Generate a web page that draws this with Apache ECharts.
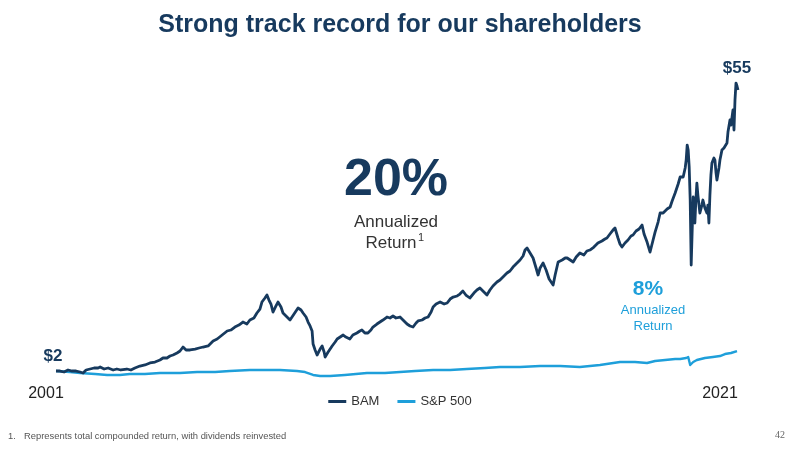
<!DOCTYPE html>
<html><head><meta charset="utf-8">
<script src="https://cdn.jsdelivr.net/npm/echarts@6/dist/echarts.min.js"></script>
<style>html,body{margin:0;padding:0;background:#fff}#c{width:800px;height:451px}</style>
</head><body><div id="c"></div>
<script>
// BAM: year / value in $
var bamYears = [2001.00,2001.12,2001.24,2001.36,2001.48,2001.60,2001.72,2001.81,2001.90,2002.02,2002.14,2002.26,2002.32,2002.44,2002.56,2002.71,2002.82,2002.94,2003.12,2003.24,2003.36,2003.51,2003.66,2003.81,2003.96,2004.11,2004.20,2004.32,2004.41,2004.50,2004.62,2004.71,2004.80,2004.89,2005.01,2005.16,2005.28,2005.40,2005.55,2005.70,2005.82,2005.97,2006.12,2006.23,2006.35,2006.47,2006.59,2006.71,2006.80,2006.92,2007.01,2007.10,2007.16,2007.25,2007.31,2007.37,2007.43,2007.49,2007.58,2007.64,2007.73,2007.79,2007.88,2008.00,2008.12,2008.24,2008.33,2008.39,2008.48,2008.54,2008.60,2008.66,2008.69,2008.75,2008.81,2008.90,2008.96,2009.02,2009.05,2009.14,2009.26,2009.35,2009.41,2009.50,2009.59,2009.67,2009.79,2009.88,2010.00,2010.09,2010.15,2010.24,2010.33,2010.42,2010.48,2010.60,2010.69,2010.78,2010.90,2010.99,2011.08,2011.17,2011.29,2011.38,2011.50,2011.59,2011.68,2011.77,2011.83,2011.95,2012.04,2012.13,2012.22,2012.28,2012.37,2012.49,2012.61,2012.70,2012.79,2012.88,2013.00,2013.08,2013.17,2013.26,2013.38,2013.50,2013.59,2013.68,2013.80,2013.89,2013.98,2014.07,2014.19,2014.28,2014.40,2014.49,2014.58,2014.67,2014.76,2014.88,2014.97,2015.03,2015.09,2015.18,2015.27,2015.36,2015.42,2015.48,2015.57,2015.66,2015.75,2015.87,2015.93,2016.02,2016.14,2016.23,2016.29,2016.38,2016.47,2016.56,2016.67,2016.79,2016.88,2016.97,2017.09,2017.21,2017.33,2017.42,2017.48,2017.57,2017.66,2017.72,2017.81,2017.87,2017.93,2018.02,2018.11,2018.20,2018.26,2018.35,2018.44,2018.53,2018.59,2018.68,2018.77,2018.86,2018.92,2019.01,2019.07,2019.16,2019.28,2019.37,2019.43,2019.52,2019.61,2019.67,2019.76,2019.82,2019.85,2019.88,2019.91,2019.94,2019.97,2020.00,2020.03,2020.06,2020.09,2020.11,2020.14,2020.17,2020.20,2020.26,2020.32,2020.35,2020.41,2020.47,2020.50,2020.53,2020.56,2020.59,2020.62,2020.68,2020.71,2020.74,2020.77,2020.83,2020.86,2020.92,2020.98,2021.07,2021.10,2021.16,2021.19,2021.25,2021.28,2021.31,2021.34,2021.37,2021.40];
var bamValues = [2.02,2.02,1.84,2.21,2.02,2.02,1.84,1.66,2.21,2.39,2.58,2.58,2.76,2.39,2.58,2.21,2.39,2.21,2.39,2.21,2.58,2.94,3.13,3.50,3.68,4.05,4.42,4.42,4.78,4.97,5.34,5.70,6.44,5.89,5.89,6.07,6.26,6.44,6.63,7.55,7.91,8.65,9.39,9.57,10.12,10.49,11.04,10.67,11.41,11.78,12.70,13.43,14.72,15.46,16.01,15.09,14.35,12.88,13.99,14.72,13.80,12.70,12.15,11.41,12.51,13.62,13.25,12.70,11.96,11.04,10.31,9.39,6.99,5.89,4.97,6.07,6.63,5.52,4.60,5.52,6.63,7.36,7.91,8.28,8.65,8.28,7.91,8.65,9.02,9.39,9.57,9.02,9.02,9.57,10.12,10.67,11.04,11.41,11.96,11.78,12.15,11.78,11.96,11.41,10.67,10.31,10.12,10.86,11.23,11.41,11.78,11.96,12.88,13.80,14.35,14.72,14.35,14.54,15.27,15.64,15.83,16.19,16.75,16.01,15.46,16.38,16.93,17.30,16.56,16.01,16.93,17.67,18.40,18.77,19.51,20.06,20.43,21.16,21.72,22.45,23.19,24.29,24.66,23.74,22.82,20.98,19.69,20.98,21.90,20.61,18.95,17.85,19.69,22.08,22.45,22.82,22.82,22.45,22.08,23.00,23.74,23.37,24.11,24.29,24.84,25.58,25.95,26.32,26.50,27.24,27.97,28.34,26.50,25.40,24.84,25.58,26.13,26.87,27.05,27.79,28.16,28.89,27.24,25.76,23.92,26.13,27.60,29.44,31.10,31.10,31.84,32.20,33.31,34.78,36.44,37.73,37.73,39.38,40.85,43.61,42.69,39.57,33.49,21.53,27.97,34.05,31.65,29.26,33.49,36.62,34.41,31.10,32.57,33.49,32.02,31.10,32.57,29.26,34.41,38.09,40.30,41.22,40.85,38.65,37.17,39.38,40.85,42.69,43.06,43.98,46.01,48.22,47.30,50.06,46.38,51.90,55.02,54.47,53.74];
// S&P 500: year / value in $
var spYears = [2001.00,2001.42,2001.72,2002.17,2002.53,2002.91,2003.21,2003.66,2004.11,2004.71,2005.22,2005.76,2006.20,2006.80,2007.19,2007.70,2008.21,2008.45,2008.69,2008.90,2009.20,2009.64,2010.30,2010.84,2011.29,2011.74,2012.28,2012.79,2013.29,2013.83,2014.28,2014.88,2015.48,2016.08,2016.67,2017.27,2017.87,2018.32,2018.68,2018.92,2019.22,2019.52,2019.67,2019.85,2019.91,2019.97,2020.06,2020.17,2020.41,2020.65,2020.86,2021.01,2021.19,2021.37];
var spValues = [2.02,1.84,1.66,1.47,1.29,1.29,1.47,1.47,1.66,1.66,1.84,1.84,2.02,2.21,2.21,2.21,2.02,1.84,1.29,1.10,1.10,1.29,1.66,1.66,1.84,2.02,2.21,2.21,2.39,2.58,2.76,2.76,2.94,2.94,2.76,3.13,3.68,3.68,3.50,3.86,4.05,4.23,4.23,4.42,4.60,3.13,3.68,4.05,4.42,4.60,4.78,5.15,5.34,5.70];
var seriesNames = ['BAM', 'S&P 500'];
var startLabel = '$2', endLabel = '$55';
var yearLabels = ['2001', '2021'];

var NAVY = '#173a5e', BLUE = '#1e9fda';
function zip(a, b) { return a.map(function (v, i) { return [v, b[i]]; }); }
var chart = echarts.init(document.getElementById('c'), null, {renderer: 'canvas'});
var F = 'Liberation Sans, Arial, sans-serif';
chart.setOption({
  animation: false,
  grid: {left: 56, right: 62, top: 56, bottom: 69},
  xAxis: {type: 'value', min: 2001, max: 2021.4, show: false},
  yAxis: {type: 'value', min: 0, max: 60, show: false},
  legend: {
    bottom: 38, left: 'center', itemGap: 18, itemWidth: 18, itemHeight: 3, icon: 'rect',
    textStyle: {fontFamily: F, fontSize: 13, color: '#333'},
    data: seriesNames
  },
  series: [
    {name: seriesNames[1], type: 'line', data: zip(spYears, spValues), showSymbol: false, lineStyle: {color: BLUE, width: 2.4, join: 'round'}, itemStyle: {color: BLUE}, z: 2},
    {name: seriesNames[0], type: 'line', data: zip(bamYears, bamValues), showSymbol: false, lineStyle: {color: NAVY, width: 2.8, join: 'round'}, itemStyle: {color: NAVY}, z: 3}
  ],
  graphic: [
    {type: 'text', left: 'center', top: 13, style: {text: 'Strong track record for our shareholders', font: 'bold 25px ' + F, fill: NAVY}},
    {type: 'text', x: 737, y: 68, style: {text: endLabel, font: 'bold 17px ' + F, fill: NAVY, align: 'center', verticalAlign: 'middle'}},
    {type: 'text', x: 53, y: 356, style: {text: startLabel, font: 'bold 17px ' + F, fill: NAVY, align: 'center', verticalAlign: 'middle'}},
    {type: 'text', x: 46, y: 394, style: {text: yearLabels[0], font: '16px ' + F, fill: '#222', align: 'center', verticalAlign: 'middle'}},
    {type: 'text', x: 720, y: 394, style: {text: yearLabels[1], font: '16px ' + F, fill: '#222', align: 'center', verticalAlign: 'middle'}},
    {type: 'text', x: 396, y: 181, style: {text: '20%', font: 'bold 52px ' + F, fill: NAVY, align: 'center', verticalAlign: 'middle'}},
    {type: 'text', x: 396, y: 222, style: {text: 'Annualized', font: '17px ' + F, fill: '#333', align: 'center', verticalAlign: 'middle'}},
    {type: 'text', x: 391, y: 243, style: {text: 'Return', font: '17px ' + F, fill: '#333', align: 'center', verticalAlign: 'middle'}},
    {type: 'text', x: 418, y: 238, style: {text: '1', font: '11px ' + F, fill: '#333', align: 'left', verticalAlign: 'middle'}},
    {type: 'text', x: 648, y: 289, style: {text: '8%', font: 'bold 21px ' + F, fill: BLUE, align: 'center', verticalAlign: 'middle'}},
    {type: 'text', x: 653, y: 310, style: {text: 'Annualized', font: '13px ' + F, fill: BLUE, align: 'center', verticalAlign: 'middle'}},
    {type: 'text', x: 653, y: 326, style: {text: 'Return', font: '13px ' + F, fill: BLUE, align: 'center', verticalAlign: 'middle'}},
    {type: 'text', x: 8, y: 436, style: {text: '1.', font: '9.4px ' + F, fill: '#555', verticalAlign: 'middle'}},
    {type: 'text', x: 24, y: 436, style: {text: 'Represents total compounded return, with dividends reinvested', font: '9.4px ' + F, fill: '#555', verticalAlign: 'middle'}},
    {type: 'text', x: 780, y: 435, style: {text: '42', font: '10px "Liberation Serif", serif', fill: '#666', align: 'center', verticalAlign: 'middle'}}
  ]
});
</script></body></html>
